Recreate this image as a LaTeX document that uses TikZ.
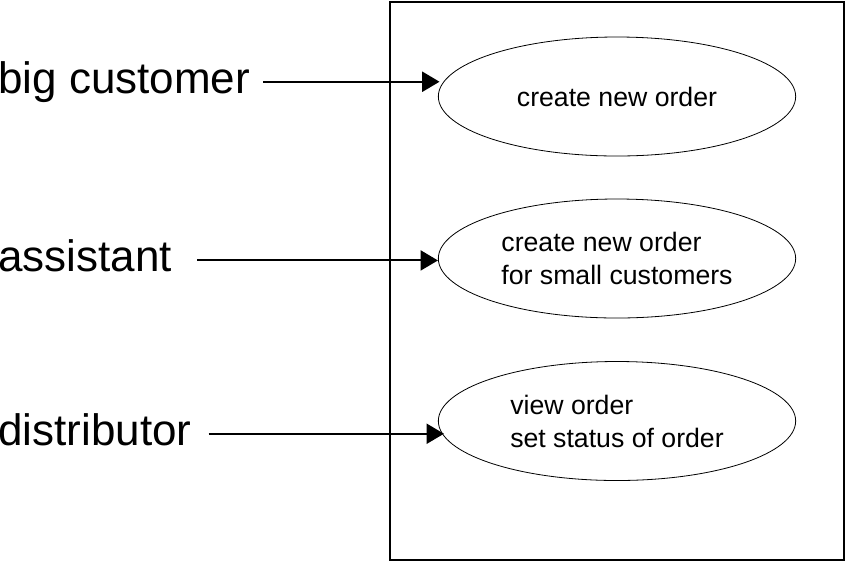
\documentclass[tikz,border=0pt]{standalone}
\usepackage{fontspec}
\setmainfont{Liberation Sans}
\usetikzlibrary{shapes.geometric,arrows.meta}

\begin{document}
\begin{tikzpicture}[
    x=0.75pt, y=-0.75pt,
    actor/.style={anchor=base west, inner sep=0pt, font=\fontsize{33}{40}\selectfont,
                  text height=23.8pt, text depth=6.9pt},
    usecase/.style={ellipse, draw, line width=0.6pt, minimum width=268pt, minimum height=89.25pt,
                    inner sep=0pt, align=left, font=\fontsize{20}{24.75}\selectfont},
    arrow/.style={-{Triangle[length=13pt,width=15pt]}, line width=1.5pt, shorten <=9.75pt},
    frame/.style={draw, line width=2pt}
]
\useasboundingbox (0,0) rectangle (846,562);

\draw[frame] (390,2) rectangle (844,560);

\node[actor] (big) at (-2,93) {big customer};
\node[actor] (asst) at (-2,271.7) {assistant};
\node[actor] (dist) at (-2,445) {distributor};

\node[usecase] (uc1) at (617,96.5) {create new order};
\node[usecase] (uc2) at (617,258.5) {create new order\\for small customers};
\node[usecase] (uc3) at (617,421) {view order\\set status of order};

\draw[arrow, shorten >=-1.2pt] (big) -- (big -| uc1.west);
\draw[arrow, shorten <=18.75pt] (asst) -- (asst -| uc2.west);
\draw[arrow, shorten <=12.75pt, shorten >=-4.5pt] (dist) -- (dist -| uc3.west);

\end{tikzpicture}
\end{document}
